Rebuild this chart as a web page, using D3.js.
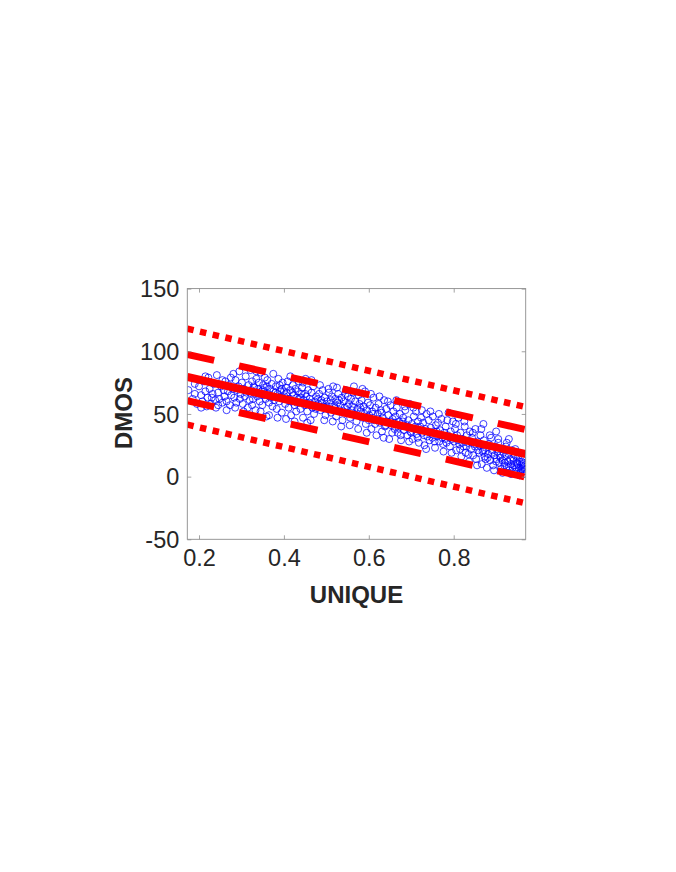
<!DOCTYPE html>
<html><head><meta charset="utf-8">
<script src="https://cdn.jsdelivr.net/npm/d3@7"></script>
<style>body{margin:0;background:#fff;}svg{display:block;}</style>
</head><body>
<script>
const xTicks = [0.2, 0.4, 0.6, 0.8];
const yTicks = [-50, 0, 50, 100, 150];
const xDomain = [0.1724, 0.9696];
const yDomain = [-50, 150];
const fitLine = [79.5, 18];
const predUpper = [97.5, 37.5];
const predLower = [60.5, -0.5];
const confUpper = [118, 55.5];
const confLower = [41.5, -21.3];
const points = [
[0.175,69],[0.185,62],[0.19,66],[0.195,58],[0.2,72],
[0.205,65],[0.208,60],[0.212,76],[0.215,68],[0.218,56],[0.22,63],
[0.222,79],[0.225,70],[0.228,58],[0.232,66],[0.235,74],[0.238,61],[0.24,55],
[0.242,81],[0.245,67],[0.248,62],[0.252,72],[0.255,59],[0.258,69],[0.26,64],
[0.262,76],[0.265,60],[0.268,68],[0.27,73],[0.273,57],[0.276,65],[0.279,70],
[0.281,82],[0.283,63],[0.286,77],[0.288,59],[0.29,69],[0.293,72],[0.296,62],[0.298,66],
[0.301,75],[0.303,58],[0.305,70],[0.308,64],[0.31,80],[0.312,67],[0.315,55],[0.317,73],[0.319,61],
[0.321,85],[0.323,69],[0.325,76],[0.327,62],[0.329,72],[0.331,66],[0.333,53],[0.335,78],[0.337,64],[0.339,70],
[0.341,75],[0.343,60],[0.345,83],[0.347,68],[0.349,57],[0.351,73],[0.353,65],[0.355,71],[0.357,62],[0.359,48],
[0.361,77],[0.363,66],[0.365,59],[0.367,70],[0.369,63],[0.371,74],[0.373,56],[0.375,68],[0.377,61],
[0.381,72],[0.383,54],[0.385,66],[0.387,78],[0.389,60],[0.391,69],[0.393,63],[0.395,51],[0.397,75],
[0.401,64],[0.403,58],[0.405,71],[0.407,67],[0.409,76],[0.411,55],[0.413,62],[0.415,69],[0.417,49],[0.419,60],
[0.421,73],[0.423,65],[0.425,57],[0.427,70],[0.429,52],[0.431,63],[0.433,68],[0.435,76],[0.437,59],[0.439,54],
[0.441,66],[0.443,71],[0.445,47],[0.447,61],[0.449,57],[0.451,78],[0.453,64],[0.455,52],[0.457,69],[0.459,58],
[0.461,62],[0.463,45],[0.465,67],[0.467,55],[0.469,72],[0.471,50],[0.473,60],[0.476,64],
[0.481,58],[0.483,66],[0.486,53],[0.488,61],[0.491,69],[0.493,56],[0.496,63],[0.498,49],
[0.501,60],[0.503,54],[0.506,67],[0.508,58],[0.511,51],[0.513,64],[0.516,72],[0.518,56],
[0.521,62],[0.523,48],[0.526,59],[0.528,66],[0.531,53],[0.533,57],[0.536,63],[0.538,45],
[0.541,60],[0.543,55],[0.546,69],[0.548,51],[0.551,64],[0.553,58],[0.556,47],[0.558,62],
[0.561,56],[0.563,67],[0.566,50],[0.568,60],[0.571,44],[0.573,54],[0.576,65],[0.578,58],
[0.581,52],[0.583,61],[0.586,47],[0.588,56],[0.591,68],[0.593,42],[0.596,53],[0.598,59],
[0.601,49],[0.603,57],[0.606,38],[0.608,52],[0.611,63],[0.613,45],[0.616,55],[0.618,33],
[0.621,50],[0.623,58],[0.626,43],[0.628,53],[0.631,36],[0.633,47],[0.636,61],[0.638,40],
[0.641,54],[0.643,44],[0.646,49],[0.648,30],[0.651,57],[0.653,41],[0.656,46],[0.658,52],
[0.661,38],[0.663,48],[0.666,55],[0.668,35],[0.671,44],[0.673,50],[0.676,29],[0.678,42],
[0.681,47],[0.683,37],[0.686,53],[0.688,40],[0.691,33],[0.693,45],[0.696,58],[0.698,36],
[0.701,42],[0.703,30],[0.706,48],[0.708,38],[0.711,52],[0.713,34],[0.716,44],[0.718,27],
[0.721,40],[0.723,47],[0.726,35],[0.728,43],[0.731,25],[0.733,38],[0.736,50],[0.738,32],
[0.741,45],[0.743,29],[0.746,39],[0.748,34],[0.751,48],[0.753,36],[0.756,23],[0.758,41],
[0.761,32],[0.763,43],[0.766,28],[0.768,37],[0.771,46],[0.773,31],[0.776,20],[0.778,35],
[0.781,40],[0.783,27],[0.786,33],[0.788,51],[0.791,24],[0.793,36],[0.796,30],[0.798,44],
[0.801,28],[0.803,38],[0.806,21],[0.808,33],[0.811,47],[0.813,26],[0.816,35],[0.818,16],
[0.821,30],[0.823,24],[0.826,40],[0.828,19],[0.831,33],[0.833,27],[0.836,12],[0.838,36],
[0.841,22],[0.843,31],[0.846,17],[0.848,26],[0.851,38],[0.853,14],[0.856,28],[0.858,21],
[0.861,25],[0.863,33],[0.866,10],[0.868,20],[0.871,29],[0.873,16],[0.876,23],[0.878,7],
[0.881,18],[0.883,26],[0.886,13],[0.888,31],[0.891,21],[0.893,9],[0.896,17],[0.898,24],
[0.901,14],[0.903,20],[0.905,27],[0.907,11],[0.909,17],[0.911,6],[0.913,22],[0.915,13],[0.917,19],[0.919,9],
[0.921,16],[0.923,24],[0.925,8],[0.927,12],[0.929,18],[0.931,5],[0.933,14],[0.935,10],[0.937,21],[0.939,7],
[0.941,13],[0.943,9],[0.945,17],[0.947,4],[0.949,11],[0.951,15],[0.953,7],[0.955,12],[0.957,3],[0.959,9],
[0.961,6],[0.963,10],[0.964,4],[0.965,8],[0.966,2],[0.967,6],
[0.19,74],[0.205,55],[0.215,80],[0.23,63],[0.245,57],[0.255,77],[0.265,53],[0.275,79],[0.285,55],[0.295,84],
[0.305,52],[0.315,68],[0.325,57],[0.335,84],[0.345,52],[0.355,79],[0.365,49],[0.375,82],[0.385,47],[0.395,70],
[0.405,46],[0.415,80],[0.425,44],[0.435,62],[0.445,75],[0.455,43],[0.465,77],[0.475,54],[0.485,73],[0.495,45],
[0.505,70],[0.515,44],[0.525,71],[0.535,40],[0.545,66],[0.555,41],[0.565,72],[0.575,38],[0.585,70],[0.595,35],
[0.605,66],[0.615,42],[0.625,64],[0.635,31],[0.645,60],[0.655,35],[0.665,61],[0.675,33],[0.685,56],[0.695,28],
[0.705,55],[0.715,31],[0.725,53],[0.735,22],[0.745,52],[0.755,28],[0.765,50],[0.775,26],[0.785,45],[0.795,19],
[0.805,42],[0.815,22],[0.825,44],[0.835,18],[0.845,35],[0.855,9],[0.865,38],[0.875,14],[0.885,33],[0.895,5],
[0.905,30],[0.915,3],[0.925,27],[0.935,2],[0.945,22],[0.955,1],[0.962,14],[0.93,30],[0.9,36],[0.87,42],
[0.33,71],[0.34,66],[0.35,69],[0.36,72],[0.37,64],[0.38,67],[0.39,73],[0.4,68],[0.41,61],[0.42,67],
[0.43,59],[0.44,63],[0.45,66],[0.46,59],[0.47,57],[0.48,62],[0.49,59],[0.5,56],[0.51,61],[0.52,55],
[0.53,61],[0.54,52],[0.55,56],[0.56,53],[0.57,49],[0.58,55],[0.59,50],[0.6,45],[0.61,50],[0.62,46],
[0.63,51],[0.64,41],[0.65,44],[0.66,43],[0.67,39],[0.68,44],[0.69,41],[0.7,35],[0.71,40],[0.72,37],
[0.73,33],[0.74,36],[0.75,31],[0.76,36],[0.77,33],[0.78,30],[0.79,31],[0.8,31],[0.81,29],[0.82,27],
[0.83,24],[0.84,28],[0.85,24],[0.86,19],[0.87,21],[0.88,15],[0.89,19],[0.9,12],[0.91,15],[0.92,11],
[0.93,8],[0.94,15],[0.95,10],[0.96,12],[0.965,11],[0.958,5],[0.948,7]
];

const W = 676, H = 872;
const L = 187.3, R = 525.7, T = 288.6, B = 539.3;
const svg = d3.select("body").append("svg").attr("width", W).attr("height", H)
  .style("font-family", "'Liberation Sans', Arial, Helvetica, sans-serif");

const x = d3.scaleLinear().domain(xDomain).range([L, R]);
const y = d3.scaleLinear().domain(yDomain).range([B, T]);

svg.append("defs").append("clipPath").attr("id", "clip")
  .append("rect").attr("x", L).attr("y", T).attr("width", R - L).attr("height", B - T);

const plot = svg.append("g").attr("clip-path", "url(#clip)");

// scatter
plot.append("g").selectAll("circle").data(points).join("circle")
  .attr("cx", d => x(d[0])).attr("cy", d => y(d[1])).attr("r", 3.5)
  .attr("fill", "none").attr("stroke", "#0000ff").attr("stroke-width", 0.75);

const lineGen = d3.line().x(d => x(d[0])).y(d => y(d[1]));
function seg(vals) { return [[xDomain[0], vals[0]], [xDomain[1], vals[1]]]; }

const lineDefs = [
  {v: confUpper, dash: "6.5,6.5", w: 6.5},
  {v: confLower, dash: "6.5,6.5", w: 6.5},
  {v: predUpper, dash: "27.5,25.5", w: 7},
  {v: predLower, dash: "27.5,25.5", w: 7},
  {v: fitLine, dash: null, w: 8}
];
lineDefs.forEach(ld => {
  plot.append("path").datum(seg(ld.v)).attr("d", lineGen)
    .attr("fill", "none").attr("stroke", "#ff0000").attr("stroke-width", ld.w)
    .attr("stroke-linecap", "butt")
    .attr("stroke-dasharray", ld.dash);
});

// axes
const axisColor = "#8c8c8c";
const gx = svg.append("g").attr("transform", `translate(0,${B})`)
  .call(d3.axisBottom(x).tickValues(xTicks).tickSize(-4).tickPadding(10).tickFormat(d => d.toFixed(1)));
const gxTop = svg.append("g").attr("transform", `translate(0,${T})`)
  .call(d3.axisTop(x).tickValues(xTicks).tickSize(-4).tickFormat(""));
const gy = svg.append("g").attr("transform", `translate(${L},0)`)
  .call(d3.axisLeft(y).tickValues(yTicks).tickSize(-4).tickPadding(8).tickFormat(d => String(d)));
const gyR = svg.append("g").attr("transform", `translate(${R},0)`)
  .call(d3.axisRight(y).tickValues(yTicks).tickSize(-4).tickFormat(""));

[gx, gxTop, gy, gyR].forEach(g => {
  g.select(".domain").remove();
  g.selectAll(".tick line").attr("stroke", axisColor).attr("stroke-width", 0.8);
  g.selectAll(".tick text").attr("fill", "#262626").style("font-size", "23.5px");
});
gx.selectAll(".tick text").attr("dy", "0.71em");
gy.selectAll(".tick text").attr("dy", "0.35em");

svg.append("rect").attr("x", L).attr("y", T).attr("width", R - L).attr("height", B - T)
  .attr("fill", "none").attr("stroke", axisColor).attr("stroke-width", 0.9);

svg.append("text").attr("x", (L + R) / 2).attr("y", 603)
  .attr("text-anchor", "middle").attr("fill", "#262626")
  .style("font-size", "24px").style("font-weight", "bold").text("UNIQUE");

svg.append("text").attr("transform", `translate(132,413) rotate(-90)`)
  .attr("text-anchor", "middle").attr("fill", "#262626")
  .style("font-size", "24px").style("font-weight", "bold").text("DMOS");
</script>
</body></html>
